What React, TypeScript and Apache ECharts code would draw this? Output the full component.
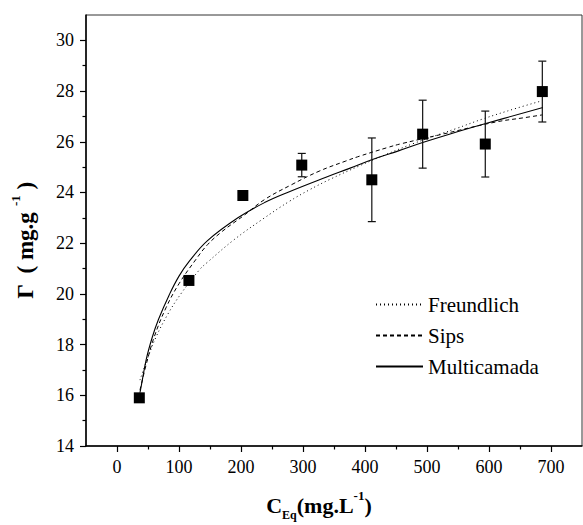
import React, { useEffect, useRef } from "react";
import * as echarts from "echarts";

// Experimental adsorption points: equilibrium concentration vs. adsorbed amount
const ceq = [36, 116, 203, 298, 411, 493, 594, 686];
const gamma = [15.9, 20.53, 23.88, 25.08, 24.5, 26.3, 25.91, 27.98];
const gammaErr = [0, 0, 0, 0.46, 1.65, 1.34, 1.3, 1.2];

// Fitted isotherm curves
const freundlichC = [37, 50, 63, 82, 103, 133, 146, 189, 235, 278, 310, 342, 391, 434, 477, 523, 547, 590, 644, 686];
const freundlichG = [16.6, 17.5, 18.3, 19.2, 20.0, 20.95, 21.25, 22.14, 22.95, 23.65, 24.1, 24.5, 25.05, 25.5, 25.92, 26.32, 26.52, 26.9, 27.32, 27.62];

const sipsC = [37, 48, 60, 79, 100, 127, 146, 170, 205, 238, 281, 326, 369, 391, 436, 458, 525, 611, 657, 686];
const sipsG = [16.2, 17.3, 18.3, 19.45, 20.4, 21.35, 21.94, 22.47, 23.1, 23.72, 24.3, 24.84, 25.24, 25.43, 25.77, 25.92, 26.3, 26.78, 26.95, 27.06];

const multiC = [37, 39, 47, 57, 67, 84, 100, 117, 146, 195, 238, 275, 337, 375, 412, 455, 493, 536, 592, 687];
const multiG = [16.1, 16.35, 17.4, 18.3, 19.0, 19.95, 20.7, 21.3, 22.1, 23.0, 23.6, 24.0, 24.6, 24.95, 25.3, 25.65, 25.97, 26.3, 26.7, 27.35];

const xTicks = [0, 100, 200, 300, 400, 500, 600, 700];
const yTicks = [14, 16, 18, 20, 22, 24, 26, 28, 30];

const serif = "Liberation Serif, Times New Roman, serif";

const zip = (a: number[], b: number[]) => a.map((v, i) => [v, b[i]]);

export default function App() {
  const ref = useRef<HTMLDivElement>(null);

  useEffect(() => {
    if (!ref.current) return;
    const chart = echarts.init(ref.current, null, { renderer: "svg" });

    const curveBase = {
      type: "line" as const,
      symbol: "none",
      smooth: 0.4,
      z: 3,
    };

    chart.setOption({
      animation: false,
      backgroundColor: "#fff",
      textStyle: { fontFamily: serif },
      grid: {
        left: 86,
        right: 1,
        top: 15,
        bottom: 79,
        show: true,
        borderColor: "#333",
        borderWidth: 1,
        containLabel: false,
        outerBoundsMode: "none",
      },
      legend: {
        data: ["Freundlich", "Sips", "Multicamada"],
        orient: "vertical",
        left: 370,
        top: 289,
        itemWidth: 47,
        itemHeight: 14,
        itemGap: 10,
        selectedMode: false,
        itemStyle: { opacity: 0 },
        textStyle: { fontFamily: serif, fontSize: 21, color: "#000", lineHeight: 21 },
      },
      xAxis: {
        type: "value",
        min: -50,
        max: 750,
        splitNumber: 8,
        name: "{b|C}{s|Eq}{b|(mg.L}{p|-1}{b|)}",
        nameLocation: "middle",
        nameGap: 43,
        nameTextStyle: {
          fontFamily: serif,
          fontWeight: "bold",
          fontSize: 22,
          color: "#000",
          padding: [0, 30, 0, 0],
          rich: {
            b: { fontFamily: serif, fontWeight: "bold", fontSize: 22, lineHeight: 32, color: "#000" },
            s: { fontFamily: serif, fontWeight: "bold", fontSize: 12, lineHeight: 2, verticalAlign: "bottom", color: "#000" },
            p: { fontFamily: serif, fontWeight: "bold", fontSize: 13, lineHeight: 16, verticalAlign: "top", color: "#000" },
          },
        },
        axisLine: { onZero: false, lineStyle: { color: "#000", width: 1.5 } },
        axisTick: { customValues: xTicks, length: 6, lineStyle: { color: "#000", width: 1.2 } },
        minorTick: { show: true, splitNumber: 2, length: 3.5, lineStyle: { color: "#000", width: 1.2 } },
        axisLabel: { customValues: xTicks, fontFamily: serif, fontSize: 18, color: "#000", margin: 12 },
        splitLine: { show: false },
        minorSplitLine: { show: false },
      },
      yAxis: {
        type: "value",
        min: 14,
        max: 31,
        interval: 2,
        name: "{b|Γ  ( mg.g }{p|-1}{b| )}",
        nameLocation: "middle",
        nameGap: 45,
        nameTextStyle: {
          fontFamily: serif,
          fontWeight: "bold",
          fontSize: 23,
          color: "#000",
          padding: [0, 20, 0, 0],
          rich: {
            b: { fontFamily: serif, fontWeight: "bold", fontSize: 23, lineHeight: 32, color: "#000" },
            p: { fontFamily: serif, fontWeight: "bold", fontSize: 13, lineHeight: 11, verticalAlign: "top", color: "#000" },
          },
        },
        axisLine: { onZero: false, lineStyle: { color: "#000", width: 1.5 } },
        axisTick: { customValues: yTicks, length: 6, lineStyle: { color: "#000", width: 1.2 } },
        minorTick: { show: true, splitNumber: 2, length: 3.5, lineStyle: { color: "#000", width: 1.2 } },
        axisLabel: { customValues: yTicks, fontFamily: serif, fontSize: 18, color: "#000", margin: 12 },
        splitLine: { show: false },
        minorSplitLine: { show: false },
      },
      series: [
        {
          ...curveBase,
          name: "Freundlich",
          data: zip(freundlichC, freundlichG),
          lineStyle: { color: "#000", width: 1, type: [1, 3] },
          itemStyle: { color: "#000" },
        },
        {
          ...curveBase,
          name: "Sips",
          data: zip(sipsC, sipsG),
          lineStyle: { color: "#000", width: 1, type: [4, 3] },
          itemStyle: { color: "#000" },
        },
        {
          ...curveBase,
          name: "Multicamada",
          data: zip(multiC, multiG),
          lineStyle: { color: "#000", width: 1.1, type: "solid" },
          itemStyle: { color: "#000" },
        },
        {
          name: "erro",
          type: "custom",
          z: 4,
          data: ceq.map((c, i) => [c, gamma[i], gammaErr[i]]),
          renderItem: (_params: any, api: any) => {
            const x = api.value(0);
            const y = api.value(1);
            const e = api.value(2);
            if (!e) return { type: "group", children: [] };
            const top = api.coord([x, y + e]);
            const bot = api.coord([x, y - e]);
            const hw = 4;
            const style = { stroke: "#111", lineWidth: 1.2 };
            return {
              type: "group",
              children: [
                { type: "line", shape: { x1: top[0], y1: top[1], x2: bot[0], y2: bot[1] }, style },
                { type: "line", shape: { x1: top[0] - hw, y1: top[1], x2: top[0] + hw, y2: top[1] }, style },
                { type: "line", shape: { x1: bot[0] - hw, y1: bot[1], x2: bot[0] + hw, y2: bot[1] }, style },
              ],
            };
          },
        },
        {
          name: "dados",
          type: "scatter",
          z: 5,
          symbol: "rect",
          symbolSize: 11,
          itemStyle: { color: "#000", opacity: 1 },
          data: zip(ceq, gamma),
        },
      ],
    });

    return () => chart.dispose();
  }, []);

  return (
    <div
      ref={ref}
      style={{ position: "fixed", left: 0, top: 0, width: 583, height: 525, background: "#fff" }}
    />
  );
}
